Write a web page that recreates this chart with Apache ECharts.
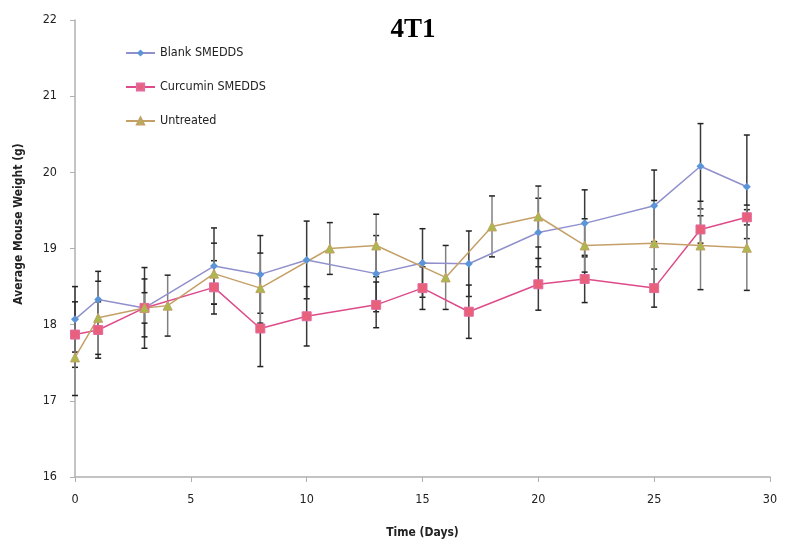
<!DOCTYPE html>
<html>
<head>
<meta charset="utf-8">
<script src="https://cdn.jsdelivr.net/npm/echarts@6/dist/echarts.min.js"></script>
<style>html,body{margin:0;padding:0;background:#fff}#c{width:787px;height:544px}</style>
</head>
<body>
<div id="c"></div>
<script>
var blankDays = [0,1,3,6,8,10,13,15,17,20,22,25,27,29];
var blankVals = [18.07,18.33,18.22,18.77,18.66,18.85,18.67,18.81,18.80,19.21,19.33,19.56,20.08,19.81];
var blankErr  = [0.43,0.37,0.53,0.50,0.51,0.51,0.50,0.45,0.43,0.45,0.44,0.47,0.56,0.68];

var curDays = [0,1,3,6,8,10,13,15,17,20,22,25,27,29];
var curVals = [17.87,17.93,18.22,18.49,17.95,18.11,18.26,18.48,18.17,18.53,18.60,18.48,19.25,19.41];
var curErr  = [0.43,0.37,0.38,0.35,0.50,0.39,0.30,0.28,0.35,0.34,0.31,0.25,0.18,0.10];

var untDays = [0,1,3,4,6,8,11,13,16,18,20,22,25,27,29];
var untVals = [17.57,18.09,18.22,18.25,18.67,18.48,19.00,19.04,18.62,19.29,19.42,19.04,19.07,19.04,19.01];
var untErr  = [0.50,0.48,0.20,0.40,0.40,0.46,0.34,0.41,0.42,0.40,0.40,0.35,0.56,0.58,0.56];

var xTicks = [0,5,10,15,20,25,30];
var yTicks = [16,17,18,19,20,21,22];

function pairs(d, v){ return d.map(function(x,i){ return [x, v[i]]; }); }
function errData(d, v, e){ return d.map(function(x,i){ return [x, v[i]-e[i], v[i]+e[i]]; }); }

function errSeries(d, v, e, color){
  return {
    type: 'custom',
    silent: true,
    z: 1,
    data: errData(d, v, e),
    renderItem: function(params, api){
      var lo = api.coord([api.value(0), api.value(1)]);
      var hi = api.coord([api.value(0), api.value(2)]);
      var w = 3;
      var st = {stroke: color, lineWidth: 1.5};
      return {type: 'group', children: [
        {type:'line', shape:{x1:lo[0],y1:lo[1],x2:hi[0],y2:hi[1]}, style: st},
        {type:'line', shape:{x1:lo[0]-w,y1:lo[1],x2:lo[0]+w,y2:lo[1]}, style: {stroke:'#222', lineWidth:1.5}},
        {type:'line', shape:{x1:hi[0]-w,y1:hi[1],x2:hi[0]+w,y2:hi[1]}, style: {stroke:'#222', lineWidth:1.5}}
      ]};
    }
  };
}

var font = '"DejaVu Sans Condensed", "Liberation Sans", sans-serif';
var chart = echarts.init(document.getElementById('c'));
chart.setOption({
  animation: false,
  backgroundColor: '#fff',
  title: {
    text: '4T1', left: 408, top: 12, textAlign: 'center',
    textStyle: {fontFamily: '"Liberation Serif", "DejaVu Serif", serif', fontWeight: 'bold', fontSize: 27, color: '#000'}
  },
  graphic: [{
    type: 'text', x: 19, y: 224, rotation: Math.PI / 2,
    style: {text: 'Average Mouse Weight (g)', fontFamily: font, fontSize: 12, fontWeight: 'bold',
      fill: '#222', align: 'center', verticalAlign: 'middle'}
  }],
  legend: {
    orient: 'vertical', left: 125, top: 46, padding: 0, itemWidth: 29, itemHeight: 9, itemGap: 20,
    textStyle: {fontFamily: font, fontSize: 12.5, color: '#222', lineHeight: 14},
    data: ['Blank SMEDDS','Curcumin SMEDDS','Untreated']
  },
  grid: {left: 75, right: 17, top: 20, bottom: 61},
  xAxis: {
    type: 'value', min: 0, max: 30, interval: 5,
    name: 'Time (Days)', nameLocation: 'middle', nameGap: 50,
    nameTextStyle: {fontFamily: font, fontSize: 12, fontWeight: 'bold', color: '#222'},
    axisLine: {lineStyle: {color: '#b0b0b0', width: 1.5}},
    axisTick: {show: true, length: 5, lineStyle: {color: '#b0b0b0'}},
    axisLabel: {fontFamily: font, fontSize: 12.5, color: '#222', margin: 16,
      formatter: function(v){ return xTicks.indexOf(v) >= 0 ? String(v) : ''; }},
    splitLine: {show: false}
  },
  yAxis: {
    type: 'value', min: 16, max: 22, interval: 1,
    axisLine: {show: true, lineStyle: {color: '#b0b0b0', width: 1.5}},
    axisTick: {show: true, length: 5, lineStyle: {color: '#b0b0b0'}},
    axisLabel: {fontFamily: font, fontSize: 12.5, color: '#222', margin: 18,
      formatter: function(v){ return yTicks.indexOf(v) >= 0 ? String(v) : ''; }},
    splitLine: {show: false}
  },
  series: [
    errSeries(blankDays, blankVals, blankErr, '#3a3a3a'),
    errSeries(curDays, curVals, curErr, '#3a3a3a'),
    errSeries(untDays, untVals, untErr, '#808080'),
    {
      name: 'Blank SMEDDS', type: 'line', z: 3, data: pairs(blankDays, blankVals),
      symbol: 'diamond', symbolSize: 8,
      lineStyle: {color: '#9090cc', width: 1.5},
      itemStyle: {color: '#5b95d8', borderColor: '#7fa6e0', borderWidth: 0}
    },
    {
      name: 'Curcumin SMEDDS', type: 'line', z: 3, data: pairs(curDays, curVals),
      symbol: 'rect', symbolSize: 9,
      lineStyle: {color: '#de4b8a', width: 1.5},
      itemStyle: {color: '#e8607a', borderColor: '#e26aa0', borderWidth: 1}
    },
    {
      name: 'Untreated', type: 'line', z: 3, data: pairs(untDays, untVals),
      symbol: 'triangle', symbolSize: 9,
      lineStyle: {color: '#c4a068', width: 1.5},
      itemStyle: {color: '#a9b94c', borderColor: '#c4a068', borderWidth: 1}
    }
  ]
});
</script>
</body>
</html>
